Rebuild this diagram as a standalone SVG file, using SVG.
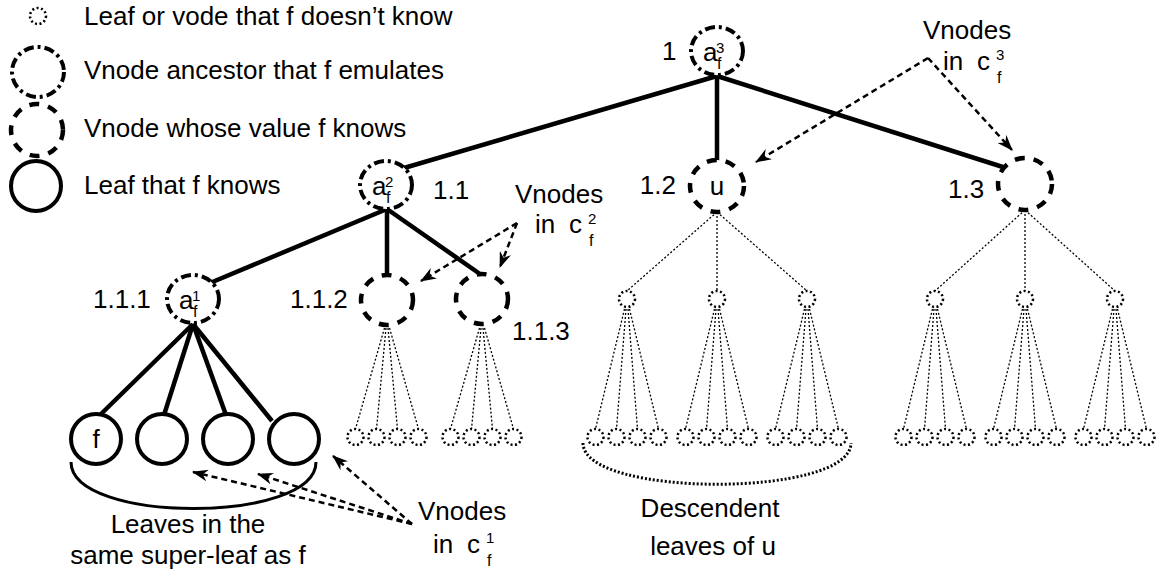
<svg xmlns="http://www.w3.org/2000/svg" width="1156" height="571" viewBox="0 0 1156 571">
<style>
text{font-family:"Liberation Sans",Arial,sans-serif;fill:#000}
.t{font-size:26px}
.sup{font-size:15px}
.sub{font-size:16px}
.anc{fill:#fff;stroke:#000;stroke-width:4;stroke-dasharray:10 4 3 4}
.kn{fill:#fff;stroke:#000;stroke-width:4.5;stroke-dasharray:10 9}
.leaf{fill:#fff;stroke:#000;stroke-width:4}
.unk{fill:#fff;stroke:#000;stroke-width:2.5;stroke-dasharray:2 2.5}
.edge{stroke:#000;stroke-width:4.5;fill:none}
.dot{stroke:#000;stroke-width:1.3;stroke-dasharray:2 2;fill:none}
.arr{stroke:#000;stroke-width:2.5;stroke-dasharray:6 4;fill:none;marker-end:url(#ah)}
.brace{fill:none;stroke:#000;stroke-width:3}
.dbrace{fill:none;stroke:#000;stroke-width:3;stroke-dasharray:2 2}
</style>
<defs>
<marker id="ah" markerUnits="userSpaceOnUse" markerWidth="16" markerHeight="12" refX="15" refY="6" orient="auto">
<path d="M0,0 L16,6 L0,12 L5,6 z" fill="#000"/>
</marker>
</defs>
<rect width="1156" height="571" fill="#fff"/>

<g id="legend">
<circle class="unk" cx="38" cy="16" r="8"/>
<text class="t" x="84" y="25">Leaf or vode that f doesn’t know</text>
<ellipse class="anc" cx="38" cy="72" rx="26" ry="25"/>
<text class="t" x="84" y="79">Vnode ancestor that f emulates</text>
<circle class="kn" cx="37" cy="130" r="26"/>
<text class="t" x="84" y="137">Vnode whose value f knows</text>
<circle class="leaf" cx="36" cy="186" r="25"/>
<text class="t" x="84" y="194">Leaf that f knows</text>
</g>

<g id="connectors">
<line class="edge" x1="717" y1="76" x2="404" y2="168"/>
<line class="edge" x1="717" y1="76" x2="717" y2="161"/>
<line class="edge" x1="717" y1="76" x2="1006" y2="168"/>
<line class="edge" x1="387" y1="209" x2="210" y2="283"/>
<line class="edge" x1="387" y1="209" x2="387" y2="275"/>
<line class="edge" x1="387" y1="209" x2="480" y2="274"/>
<line class="edge" x1="193" y1="324" x2="100" y2="415"/>
<line class="edge" x1="193" y1="324" x2="164" y2="415"/>
<line class="edge" x1="193" y1="324" x2="226" y2="415"/>
<line class="edge" x1="193" y1="324" x2="272" y2="421"/>
<path class="dot" d="M717,212 L627,291 M717,212 L717,291 M717,212 L807,291"/>
<path class="dot" d="M1025,210 L935,291 M1025,210 L1025,291 M1025,210 L1115,291"/>
<path class="dot" d="M624.5,309 L595.5,429 M626,309 L616.5,429 M628,309 L637.5,429 M629.5,309 L658.5,429"/>
<path class="dot" d="M714.5,309 L685.5,429 M716,309 L706.5,429 M718,309 L727.5,429 M719.5,309 L748.5,429"/>
<path class="dot" d="M804.5,309 L775.5,429 M806,309 L796.5,429 M808,309 L817.5,429 M809.5,309 L838.5,429"/>
<path class="dot" d="M932.5,309 L903.5,429 M934,309 L924.5,429 M936,309 L945.5,429 M937.5,309 L966.5,429"/>
<path class="dot" d="M1022.5,309 L993.5,429 M1024,309 L1014.5,429 M1026,309 L1035.5,429 M1027.5,309 L1056.5,429"/>
<path class="dot" d="M1112.5,309 L1083.5,429 M1114,309 L1104.5,429 M1116,309 L1125.5,429 M1117.5,309 L1146.5,429"/>
<path class="dot" d="M384.5,328 L355.5,429 M386,328 L376.5,429 M388,328 L397.5,429 M389.5,328 L418.5,429"/>
<path class="dot" d="M479.5,328 L450.5,429 M481,328 L471.5,429 M483,328 L492.5,429 M484.5,328 L513.5,429"/>
<path class="arr" d="M928,58 L756,162"/>
<path class="arr" d="M928,58 L1012,150"/>
<path class="arr" d="M517,223 L421,281"/>
<path class="arr" d="M517,223 L500,267"/>
<path class="arr" d="M412,524 L333,456"/>
<path class="arr" d="M412,524 L258,474"/>
<path class="arr" d="M412,524 L193,472"/>
<path class="brace" d="M71,462 C71,524 316,524 316,462"/>
<path class="dbrace" d="M583,443 C583,498 851,498 851,443"/>
</g>

<g id="node-1">
<ellipse class="anc" cx="717" cy="51" rx="26" ry="24"/>
<text class="t" x="662" y="60">1</text>
<text class="t" x="703" y="61">a</text><text class="sup" x="716" y="53">3</text><text class="sub" x="717" y="69">f</text>
</g>
<g id="node-1.1">
<ellipse class="anc" cx="386" cy="185" rx="26" ry="24"/>
<text class="t" x="433" y="199">1.1</text>
<text class="t" x="372" y="195">a</text><text class="sup" x="385" y="187">2</text><text class="sub" x="386" y="203">f</text>
</g>
<g id="node-1.2">
<ellipse class="kn" cx="717" cy="186" rx="27" ry="26"/>
<text class="t" x="676" y="194" text-anchor="end">1.2</text>
<text class="t" x="717" y="195" text-anchor="middle">u</text>
</g>
<g id="node-1.3">
<ellipse class="kn" cx="1025" cy="184" rx="27" ry="26"/>
<text class="t" x="948" y="198">1.3</text>
</g>
<g id="node-1.1.1">
<ellipse class="anc" cx="193" cy="299" rx="26" ry="24"/>
<text class="t" x="93" y="308">1.1.1</text>
<text class="t" x="179" y="309">a</text><text class="sup" x="192" y="301">1</text><text class="sub" x="193" y="317">f</text>
</g>
<g id="node-1.1.2">
<ellipse class="kn" cx="387" cy="300" rx="26" ry="25"/>
<text class="t" x="290" y="308">1.1.2</text>
</g>
<g id="node-1.1.3">
<ellipse class="kn" cx="482" cy="299" rx="26" ry="25"/>
<text class="t" x="512" y="340">1.1.3</text>
</g>

<g id="leaves-f">
<circle class="leaf" cx="96" cy="439" r="25"/>
<text class="t" x="96" y="448" text-anchor="middle">f</text>
<circle class="leaf" cx="162" cy="439" r="25"/>
<circle class="leaf" cx="228" cy="439" r="25"/>
<circle class="leaf" cx="294" cy="439" r="25"/>
</g>

<g id="small-nodes">
<circle class="unk" cx="627" cy="299" r="8"/>
<circle class="unk" cx="717" cy="299" r="8"/>
<circle class="unk" cx="807" cy="299" r="8"/>
<circle class="unk" cx="935" cy="299" r="8"/>
<circle class="unk" cx="1025" cy="299" r="8"/>
<circle class="unk" cx="1115" cy="299" r="8"/>
</g>

<g id="unknown-leaves">
<circle class="unk" cx="355.5" cy="437" r="8"/><circle class="unk" cx="376.5" cy="437" r="8"/><circle class="unk" cx="397.5" cy="437" r="8"/><circle class="unk" cx="418.5" cy="437" r="8"/>
<circle class="unk" cx="450.5" cy="437" r="8"/><circle class="unk" cx="471.5" cy="437" r="8"/><circle class="unk" cx="492.5" cy="437" r="8"/><circle class="unk" cx="513.5" cy="437" r="8"/>
<circle class="unk" cx="595.5" cy="437" r="8"/><circle class="unk" cx="616.5" cy="437" r="8"/><circle class="unk" cx="637.5" cy="437" r="8"/><circle class="unk" cx="658.5" cy="437" r="8"/>
<circle class="unk" cx="685.5" cy="437" r="8"/><circle class="unk" cx="706.5" cy="437" r="8"/><circle class="unk" cx="727.5" cy="437" r="8"/><circle class="unk" cx="748.5" cy="437" r="8"/>
<circle class="unk" cx="775.5" cy="437" r="8"/><circle class="unk" cx="796.5" cy="437" r="8"/><circle class="unk" cx="817.5" cy="437" r="8"/><circle class="unk" cx="838.5" cy="437" r="8"/>
<circle class="unk" cx="903.5" cy="437" r="8"/><circle class="unk" cx="924.5" cy="437" r="8"/><circle class="unk" cx="945.5" cy="437" r="8"/><circle class="unk" cx="966.5" cy="437" r="8"/>
<circle class="unk" cx="993.5" cy="437" r="8"/><circle class="unk" cx="1014.5" cy="437" r="8"/><circle class="unk" cx="1035.5" cy="437" r="8"/><circle class="unk" cx="1056.5" cy="437" r="8"/>
<circle class="unk" cx="1083.5" cy="437" r="8"/><circle class="unk" cx="1104.5" cy="437" r="8"/><circle class="unk" cx="1125.5" cy="437" r="8"/><circle class="unk" cx="1146.5" cy="437" r="8"/>
</g>

<g id="labels">
<text class="t" x="923" y="39">Vnodes</text>
<text class="t" x="943" y="70">in</text><text class="t" x="977" y="70">c</text><text class="sup" x="996" y="60">3</text><text class="sub" x="997" y="83">f</text>
<text class="t" x="515" y="203">Vnodes</text>
<text class="t" x="535" y="233">in</text><text class="t" x="569" y="233">c</text><text class="sup" x="588" y="224">2</text><text class="sub" x="589" y="246">f</text>
<text class="t" x="418" y="520">Vnodes</text>
<text class="t" x="433" y="553">in</text><text class="t" x="467" y="553">c</text><text class="sup" x="486" y="543">1</text><text class="sub" x="487" y="566">f</text>
<text class="t" x="188" y="533" text-anchor="middle">Leaves in the</text>
<text class="t" x="188" y="564" text-anchor="middle">same super-leaf as f</text>
<text class="t" x="710" y="517" text-anchor="middle">Descendent</text>
<text class="t" x="713" y="555" text-anchor="middle">leaves of u</text>
</g>
</svg>
